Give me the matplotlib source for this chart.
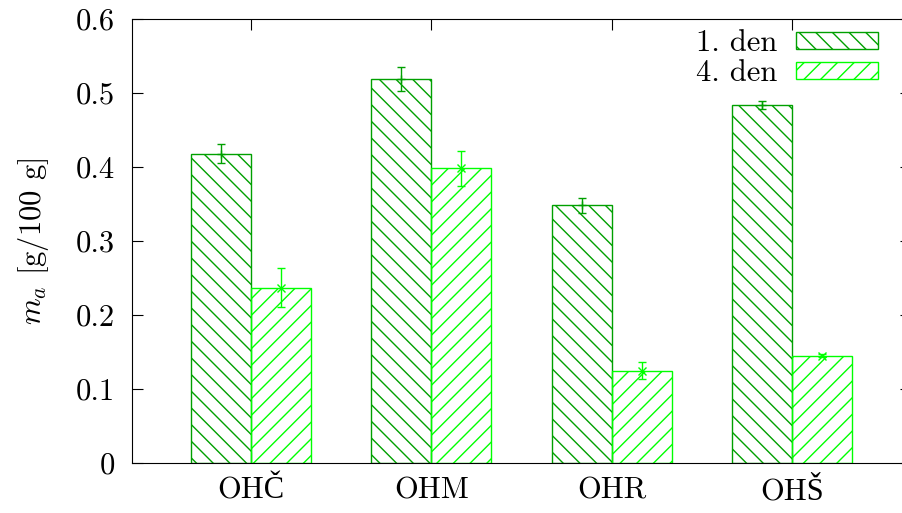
import numpy as np
import matplotlib
matplotlib.use("Agg")
import matplotlib.pyplot as plt

# data
categories = ["OHČ", "OHM", "OHR", "OHŠ"]
den1 = [0.418, 0.519, 0.348, 0.484]
den1_err = [0.013, 0.016, 0.010, 0.005]
den4 = [0.237, 0.398, 0.125, 0.145]
den4_err = [0.026, 0.023, 0.011, 0.002]
yticks = [0, 0.1, 0.2, 0.3, 0.4, 0.5, 0.6]
yticklabels = ["0", "0.1", "0.2", "0.3", "0.4", "0.5", "0.6"]
series_labels = ["1. den", "4. den"]

plt.rcParams["font.family"] = ["cmr10", "DejaVu Serif"]
plt.rcParams["mathtext.fontset"] = "cm"
plt.rcParams["hatch.linewidth"] = 1.0
plt.rcParams["axes.unicode_minus"] = False

c1 = "#00a000"
c2 = "#00ff00"

fig = plt.figure(figsize=(9.02, 5.13), dpi=100)
ax = fig.add_axes([132/902, 50/513, (911-132)/902, (463-19)/513])

x = np.arange(len(categories))
w = 1/3.
ax.bar(x - w/2, den1, w, color="none", edgecolor=c1, hatch="\\\\", linewidth=1.0, label=series_labels[0], zorder=2)
ax.bar(x + w/2, den4, w, color="none", edgecolor=c2, hatch="//", linewidth=1.0, label=series_labels[1], zorder=2)
ax.errorbar(x - w/2, den1, yerr=den1_err, fmt="+", color=c1, ms=6, capsize=3, elinewidth=1, zorder=3)
ax.errorbar(x + w/2, den4, yerr=den4_err, fmt="x", color=c2, ms=6, capsize=3, elinewidth=1, zorder=3)

ax.set_xlim(-0.661, 3.661)
ax.set_ylim(0, 0.6)
ax.set_yticks(yticks)
ax.set_yticklabels(yticklabels, fontsize=22)
ax.set_xticks(x)
ax.set_xticklabels(categories, fontsize=22, family=["cmr10", "Liberation Serif"])
ax.tick_params(axis="y", direction="in", length=8, pad=12, right=True)
ax.tick_params(axis="x", direction="in", length=8, pad=10, top=True)
ax.set_ylabel(r"$m_a$ [g/100 g]", fontsize=22, labelpad=18)

fig.legend(loc="upper right", bbox_to_anchor=(878/902, 1 - 30/513), frameon=False,
           fontsize=22, markerfirst=False, handlelength=2.7, handleheight=0.5,
           handletextpad=0.6, labelspacing=0.08, borderpad=0, borderaxespad=0)

fig.savefig("out.png", dpi=100)
